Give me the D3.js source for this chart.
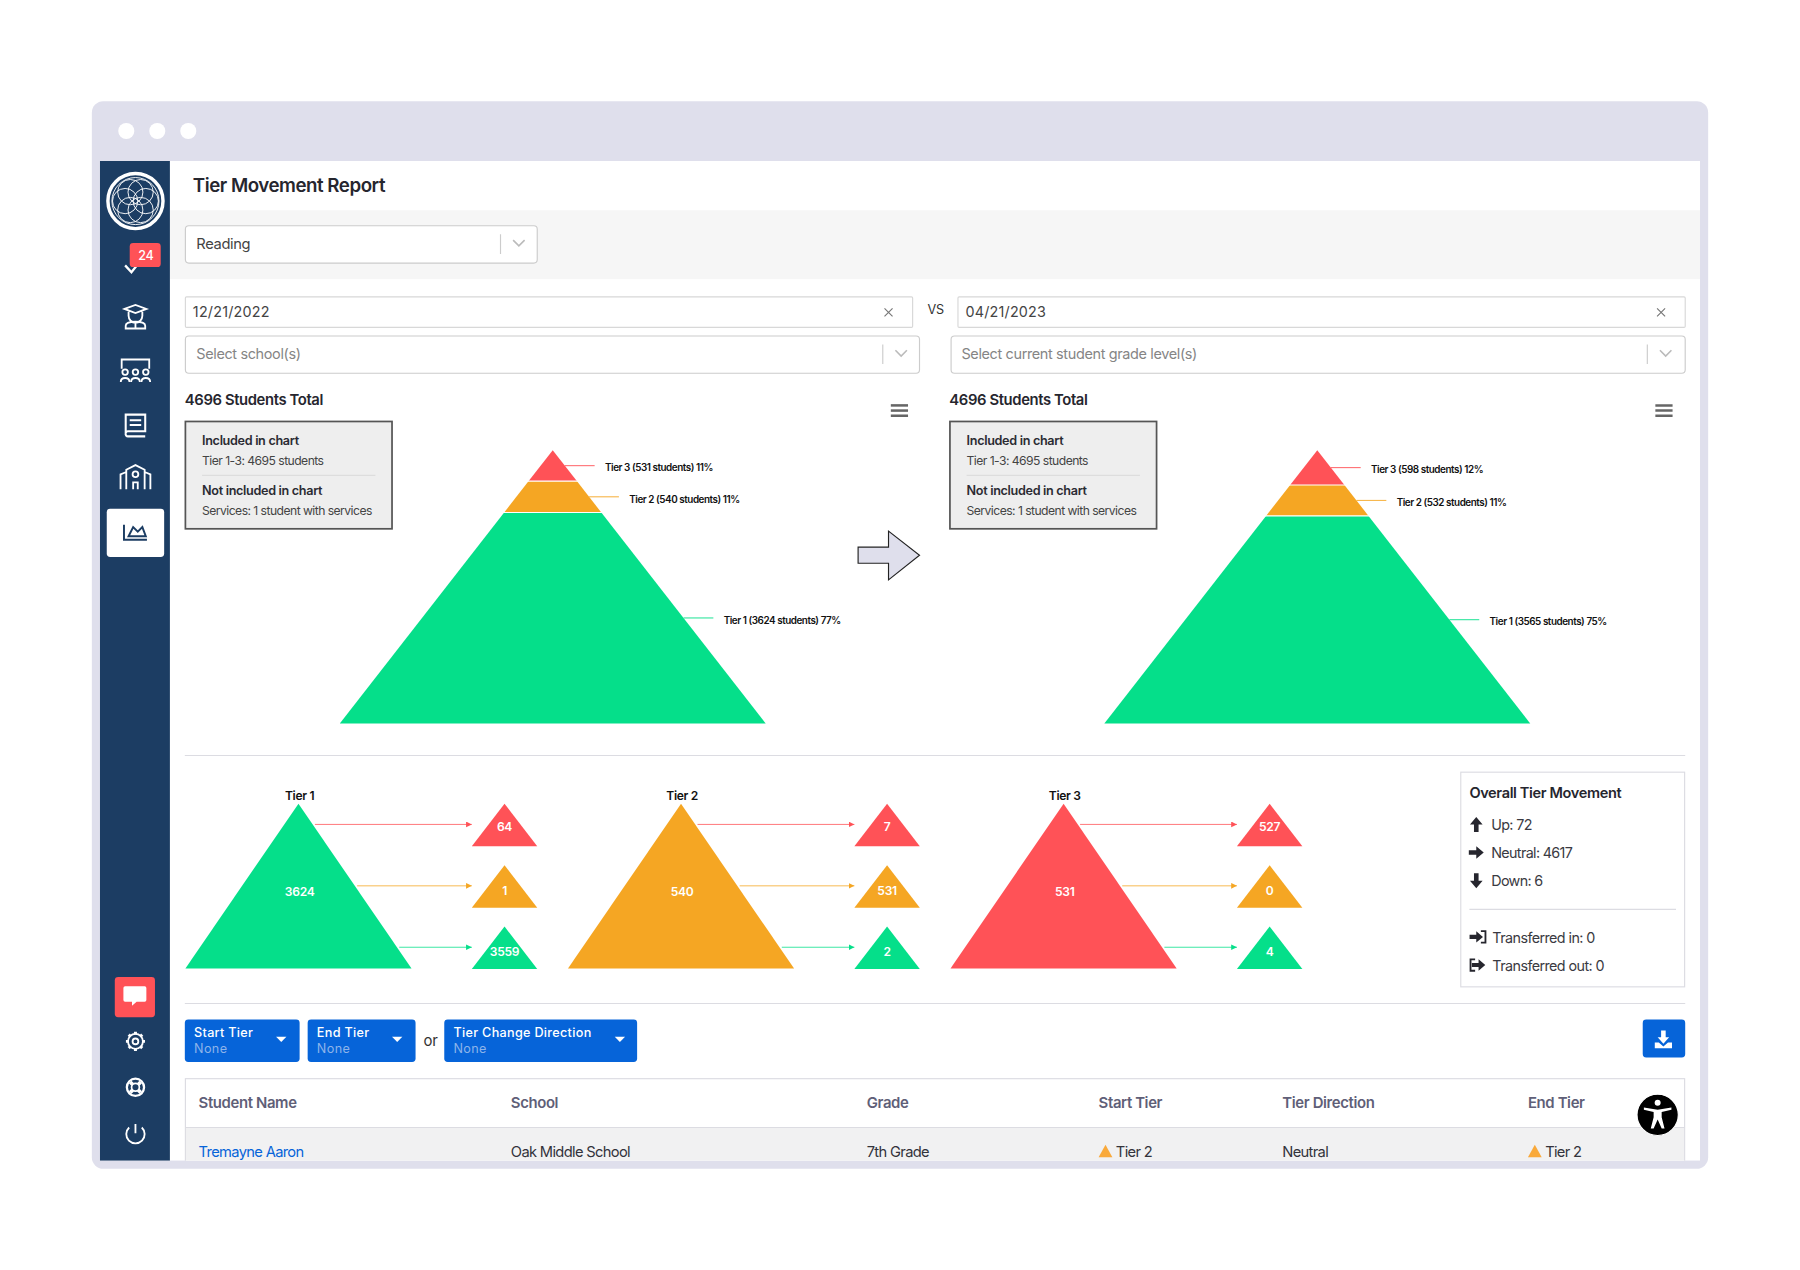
<!DOCTYPE html>
<html>
<head>
<meta charset="utf-8">
<title>Tier Movement Report</title>
<script src="https://d3js.org/d3.v7.min.js"></script>
<style>
  body { margin: 0; background: #fff; }
  svg { display: block; }
  text { font-family: Inter, "Noto Sans", sans-serif; letter-spacing: -0.025em; fill: #2b2b33; }
</style>
</head>
<body>
<svg id="chart" width="1800" height="1270" viewBox="0 0 1568 1106"></svg>
<script>
// values
const tierNames = ["Tier 3", "Tier 2", "Tier 1"];
const tierColors = ["#ff5257", "#f5a623", "#05df8a"];
const startCounts = [531, 540, 3624];
const endCounts = [598, 532, 3565];
const startPercent = [11, 11, 77];
const endPercent = [12, 11, 75];
const includedTotal = 4695;

const moveFrom = ["Tier 1", "Tier 2", "Tier 3"];
const moveFromCounts = [3624, 540, 531];
const moveToTier3 = [64, 7, 527];
const moveToTier2 = [1, 531, 0];
const moveToTier1 = [3559, 2, 4];

const movementLabels = ["Up: 72", "Neutral: 4617", "Down: 6"];
const transferLabels = ["Transferred in: 0", "Transferred out: 0"];
const tableHeaders = ["Student Name", "School", "Grade", "Start Tier", "Tier Direction", "End Tier"];
const tableRow = ["Tremayne Aaron", "Oak Middle School", "7th Grade", "Tier 2", "Neutral", "Tier 2"];

const svg = d3.select("#chart");
const frame = "#dfdfec", navy = "#1c3d63", blue = "#0664d9", line = "#dcdce2";

function box(g, x0, y0, x1, y1, fill, stroke, rx) {
    return g.append("rect").attr("x", x0).attr("y", y0).attr("width", x1 - x0).attr("height", y1 - y0)
        .attr("fill", fill).attr("stroke", stroke || "none").attr("rx", rx || 0);
}
function label(g, x, y, str, size, weight, color, anchor) {
    return g.append("text").attr("x", x).attr("y", y).text(str)
        .style("font-size", size + "px").style("font-weight", weight || 400)
        .style("fill", color || "#2b2b33").attr("text-anchor", anchor || "start");
}
function hline(g, x0, x1, y, color, w) {
    return g.append("line").attr("x1", x0).attr("x2", x1).attr("y1", y).attr("y2", y)
        .attr("stroke", color).attr("stroke-width", w || 1);
}
function chevron(g, x, y) {
    g.append("path").attr("d", `M${x - 5},${y - 3}L${x},${y + 2}L${x + 5},${y - 3}`)
        .attr("fill", "none").attr("stroke", "#bbb").attr("stroke-width", 1.4);
}
function cross(g, x, y) {
    g.append("path").attr("d", `M${x - 3.5},${y - 3.5}L${x + 3.5},${y + 3.5}M${x + 3.5},${y - 3.5}L${x - 3.5},${y + 3.5}`)
        .attr("stroke", "#777").attr("stroke-width", 1);
}
function triangle(cx, top, bottom, half) {
    return `M${cx},${top}L${cx + half},${bottom}L${cx - half},${bottom}Z`;
}

// window frame
box(svg, 80, 88, 1488, 1018, frame, null, 10);
[110, 137, 164].forEach(x => svg.append("circle").attr("cx", x).attr("cy", 114).attr("r", 7).attr("fill", "#fff"));
svg.append("clipPath").attr("id", "page").append("rect").attr("x", 87).attr("y", 140).attr("width", 1394).attr("height", 871);
const page = svg.append("g").attr("clip-path", "url(#page)");
box(page, 87, 140, 1481, 1011, "#fff");

// top bars
label(page, 168, 167, "Tier Movement Report", 16.3, 600, "#26262e");
box(page, 148, 183, 1481, 243, "#f6f6f6");
box(page, 161.5, 196.5, 468, 229, "#fff", "#ccc", 3);
label(page, 171, 217, "Reading", 12.8, 400, "#444");
hline(page, 436, 436, 204).attr("y2", 221).attr("stroke", "#ccc");
chevron(page, 452, 212);

// date and filter inputs
box(page, 161.5, 258.5, 795, 285, "#fff", "#d8d8d8", 1);
label(page, 168, 276, "12/21/2022", 12.5, 400, "#444").style("letter-spacing", "0.015em");
cross(page, 774, 272);
label(page, 815, 273, "VS", 11, 400, "#333", "middle");
box(page, 834.5, 258.5, 1468, 285, "#fff", "#d8d8d8", 1);
label(page, 841, 276, "04/21/2023", 12.5, 400, "#444").style("letter-spacing", "0.015em");
cross(page, 1447, 272);
box(page, 161.5, 292.5, 801, 325, "#fff", "#ccc", 3);
label(page, 171, 313, "Select school(s)", 12.6, 400, "#858585");
hline(page, 769, 769, 300).attr("y2", 317).attr("stroke", "#ccc");
chevron(page, 785, 308);
box(page, 828.5, 292.5, 1468, 325, "#fff", "#ccc", 3);
label(page, 837.5, 313, "Select current student grade level(s)", 12.6, 400, "#858585");
hline(page, 1435, 1435, 300).attr("y2", 317).attr("stroke", "#ccc");
chevron(page, 1451, 308);

// pyramid: segment height is proportional to the student count
function drawPyramid(dx, counts, percents) {
    const g = page.append("g").attr("transform", `translate(${dx},0)`);
    const apex = 392, base = 630, cx = 481.5, baseHalf = 185.5;
    const y = d3.scaleLinear().domain([0, includedTotal]).range([apex, base]);
    const half = d3.scaleLinear().domain([apex, base]).range([0, baseHalf]);

    label(g, 161, 353, "4696 Students Total", 12.9, 600, "#26262e");
    [353, 357.5, 362].forEach(v => hline(g, 776, 791, v, "#666", 2.2));

    box(g, 161.5, 367, 341.5, 460.5, "#eeeeee", "#555").attr("stroke-width", 1.5);
    label(g, 176, 387.5, "Included in chart", 11, 600);
    label(g, 176, 405, "Tier 1-3: 4695 students", 10.6, 400, "#444").style("letter-spacing", "-0.045em");
    hline(g, 176, 327, 414, "#ddd");
    label(g, 176, 431, "Not included in chart", 11, 600);
    label(g, 176, 448.5, "Services: 1 student with services", 10.6, 400, "#444").style("letter-spacing", "-0.045em");

    let running = 0;
    counts.forEach((count, i) => {
        const top = y(running), bottom = y(running + count);
        running += count;
        const mid = (top + bottom) / 2;
        g.append("path")
            .attr("d", `M${cx - half(top)},${top}L${cx + half(top)},${top}L${cx + half(bottom)},${bottom}L${cx - half(bottom)},${bottom}Z`)
            .attr("fill", tierColors[i]);
        if (i > 0) hline(g, cx - half(top) - 1, cx + half(top) + 1, top, "#fff", 1);
        const edge = cx + half(mid);
        hline(g, edge, edge + 26, mid, tierColors[i], 1).attr("stroke-opacity", 0.8);
        label(g, edge + 35, mid + 5, `${tierNames[i]} (${count} students) ${percents[i]}%`, 8.6, 600, "#111")
            .style("letter-spacing", "-0.045em");
    });
}
drawPyramid(0, startCounts, startPercent);
drawPyramid(666, endCounts, endPercent);

// arrow between the pyramids
page.append("path").attr("d", "M747.5,476.5H774V462.5L801,483.5L774,505V490.5H747.5Z")
    .attr("fill", frame).attr("stroke", "#222").attr("stroke-width", 1);

hline(page, 161, 1468, 658, line);
hline(page, 161, 1468, 874, line);

// tier movement triangles
const panelX = d3.scalePoint().domain(moveFrom).range([260, 926.5]);
const targets = [
    { color: tierColors[0], values: moveToTier3 },
    { color: tierColors[1], values: moveToTier2 },
    { color: tierColors[2], values: moveToTier1 }
];
const rowTop = d3.scalePoint().domain([0, 1, 2]).range([700, 807]);
const arrowY = d3.scalePoint().domain([0, 1, 2]).range([718, 825]);
const labelDrop = [24, 26, 26];

page.append("defs").selectAll("marker").data(tierColors).join("marker")
    .attr("id", (d, i) => "tip" + i).attr("markerWidth", 6).attr("markerHeight", 6)
    .attr("refX", 5).attr("refY", 2.5).attr("orient", "auto").attr("markerUnits", "userSpaceOnUse")
    .append("path").attr("d", "M0,0L5,2.5L0,5Z").attr("fill", d => d);

moveFrom.forEach((name, p) => {
    const cx = panelX(name), top = 700, bottom = 843.5, half = 98.5;
    const color = tierColors[2 - p];
    const g = page.append("g");
    label(g, cx + 1, 697, name, 10.5, 600, "#111", "middle");
    g.append("path").attr("d", triangle(cx, top, bottom, half)).attr("fill", color);
    label(g, cx + 1, 780, moveFromCounts[p], 10.5, 600, "#fff", "middle");
    targets.forEach((t, r) => {
        const ay = arrowY(r);
        const edge = cx + half * (ay - top) / (bottom - top) + 2;
        const tx = cx + 179.5;
        hline(g, edge, tx - 28.5, ay, t.color, 0.8).attr("stroke-opacity", 0.85).attr("marker-end", `url(#tip${r})`);
        g.append("path").attr("d", triangle(tx, rowTop(r), rowTop(r) + 37, 28.5)).attr("fill", t.color);
        label(g, tx, rowTop(r) + labelDrop[r], t.values[p], 10.5, 600, "#fff", "middle");
    });
});

// overall movement box
box(page, 1272.5, 672.5, 1467.5, 859.5, "#fff", line);
label(page, 1280, 695, "Overall Tier Movement", 12.7, 600, "#26262e");
const arrowPaths = [
    "M0,-6.5L5.5,0H2V6.5H-2V0H-5.5Z",
    "M6.5,0L0,5.5V2H-6.5V-2H0V-5.5Z",
    "M0,6.5L5.5,0H2V-6.5H-2V0H-5.5Z"
];
movementLabels.forEach((str, i) => {
    const yy = d3.scalePoint().domain([0, 1, 2]).range([723, 772])(i);
    page.append("path").attr("d", arrowPaths[i]).attr("transform", `translate(1286,${yy - 5})`).attr("fill", "#26262e");
    label(page, 1299, yy, str, 12.5, 400, "#3a3a42").style("letter-spacing", "-0.045em");
});
hline(page, 1280, 1460, 792, line);
transferLabels.forEach((str, i) => {
    const yy = 821 + i * 24.5;
    const g = page.append("g").attr("transform", `translate(1287,${yy - 5})`);
    if (i == 0) {
        g.append("path").attr("d", arrowPaths[1]).attr("transform", "translate(-1,0) scale(0.9)").attr("fill", "#26262e");
        g.append("path").attr("d", "M3,-5H7V5H3").attr("fill", "none").attr("stroke", "#26262e").attr("stroke-width", 1.6);
    } else {
        g.append("path").attr("d", "M-2,-5H-6V5H-2").attr("fill", "none").attr("stroke", "#26262e").attr("stroke-width", 1.6);
        g.append("path").attr("d", arrowPaths[1]).attr("transform", "translate(1,0) scale(0.9)").attr("fill", "#26262e");
    }
    label(page, 1300, yy, str, 12.5, 400, "#3a3a42").style("letter-spacing", "-0.04em");
});

// filter buttons
const buttons = [["Start Tier", 161, 261, 245], ["End Tier", 268, 362, 346], ["Tier Change Direction", 387, 555, 540]];
buttons.forEach(b => {
    box(page, b[1], 888, b[2], 925, blue, null, 3);
    label(page, b[1] + 8, 903.5, b[0], 11, 500, "#fff").style("letter-spacing", "0.025em");
    label(page, b[1] + 8, 917, "None", 11, 400, "#8db4ea").style("letter-spacing", "0.03em");
    page.append("path").attr("d", `M${b[3] - 4.5},903H${b[3] + 4.5}L${b[3]},907.5Z`).attr("fill", "#fff");
});
label(page, 375, 911, "or", 13, 400, "#333", "middle");
box(page, 1431, 888, 1468, 921, blue, null, 3);
page.append("path").attr("d", "M1447,897.5H1451V903.5H1454L1449,909L1444,903.5H1447Z").attr("fill", "#fff");
page.append("path").attr("d", "M1441.5,908H1445L1449,911.5L1453,908H1456.5V913H1441.5Z").attr("fill", "#fff");

// student table
box(page, 161.5, 939.5, 1467.5, 1020, "#fff", line);
box(page, 162, 982, 1467, 1020, "#f1f1f2");
hline(page, 162, 1467, 982, line);
const colX = [173, 445, 755, 957, 1117, 1331];
tableHeaders.forEach((h, i) => label(page, colX[i], 965, h, 13, 600, "#5f5f78"));
tableRow.forEach((v, i) => {
    const tierCell = i == 3 || i == 5;
    if (tierCell) page.append("path").attr("d", triangle(colX[i] + 6, 997, 1008, 6)).attr("fill", "#f9a93a");
    label(page, colX[i] + (tierCell ? 15 : 0), 1008, v, 12.8, 400, i == 0 ? blue : "#33333b").style("letter-spacing", "-0.045em");
});

// accessibility badge
page.append("circle").attr("cx", 1444).attr("cy", 971).attr("r", 18).attr("fill", "#000").attr("stroke", "#fff").attr("stroke-width", 1);
page.append("circle").attr("cx", 1444).attr("cy", 960.5).attr("r", 2.6).attr("fill", "#fff");
page.append("path").attr("d", "M1432,964.5L1444,966.5L1456,964.5V966.5L1447.5,968.5V973L1450,983H1447.5L1444,975L1440.5,983H1438L1440.5,973V968.5L1432,966.5Z").attr("fill", "#fff");

// sidebar
box(page, 87, 140, 148, 1011, navy);
const side = page.append("g").attr("fill", "none").attr("stroke", "#fff").attr("stroke-width", 1.6);
side.append("circle").attr("cx", 118).attr("cy", 175).attr("r", 24).attr("stroke-width", 3);
side.append("circle").attr("cx", 118).attr("cy", 175).attr("r", 20.5).attr("stroke-width", 0.8);
d3.range(6).forEach(i => {
    const a = i * Math.PI / 3;
    side.append("circle").attr("cx", 118 + 9 * Math.cos(a)).attr("cy", 175 + 9 * Math.sin(a)).attr("r", 11).attr("stroke-width", 0.8);
});
side.append("path").attr("d", "M109,231L114.5,237L120,230").attr("stroke-width", 2);
box(page, 113, 211.5, 140, 232.5, "#ff5257", null, 3);
label(page, 127, 226, "24", 11, 500, "#fff", "middle");
// student
side.append("path").attr("d", "M108.5,269L118,265.5L127.5,269L118,272.5ZM112,271.5V275A6,6 0 0 0 124,275V271.5M109.5,286V283.5C109.5,279 126.5,279 126.5,283.5V286ZM118,281V286");
// classroom
side.append("path").attr("d", "M106,321V313H130V321");
[109, 118, 127].forEach(x => {
    side.append("circle").attr("cx", x).attr("cy", 324).attr("r", 2.4);
    side.append("path").attr("d", `M${x - 3.8},332.5C${x - 3.8},328 ${x + 3.8},328 ${x + 3.8},332.5`);
});
// book
side.append("path").attr("d", "M109.5,361H126.5V375.5H111.5A2,2 0 0 0 109.5,377.5ZM109.5,377.5A2,2 0 0 0 111.5,380H126.5M113,366H123M113,370H123").attr("stroke-width", 1.8);
// school
side.append("path").attr("d", "M105,426V413L110,411M131,426V413L126,411M110,426V409L118,405L126,409V426M116,426V420H120V426");
side.append("circle").attr("cx", 118).attr("cy", 413).attr("r", 2.5);
// active tab
box(page, 93, 443, 143, 485, "#fff", null, 3);
page.append("path").attr("d", "M108,457V470H128M112,467L116,459L120,463L124,459L127,467Z").attr("fill", "none").attr("stroke", navy).attr("stroke-width", 1.7);
// chat
box(page, 100, 851, 135, 886, "#ff5257", null, 3);
page.append("path").attr("d", "M109,859H126A1.5,1.5 0 0 1 127.5,860.5V871A1.5,1.5 0 0 1 126,872.5H119L115,876V872.5H109A1.5,1.5 0 0 1 107.5,871V860.5A1.5,1.5 0 0 1 109,859Z").attr("fill", "#fff");
// gear
side.append("circle").attr("cx", 118).attr("cy", 907).attr("r", 2.5);
side.append("circle").attr("cx", 118).attr("cy", 907).attr("r", 6.5).attr("stroke-width", 1.6);
d3.range(8).forEach(i => side.append("line").attr("x1", 118).attr("x2", 118).attr("y1", 898.7).attr("y2", 901)
    .attr("stroke-width", 2.6).attr("transform", `rotate(${i * 45} 118 907)`));
// help
side.append("circle").attr("cx", 118).attr("cy", 947).attr("r", 7.5).attr("stroke-width", 2);
side.append("circle").attr("cx", 118).attr("cy", 947).attr("r", 3.4).attr("stroke-width", 1.5);
[45, 135, 225, 315].forEach(a => side.append("line").attr("x1", 118).attr("x2", 118).attr("y1", 940.5).attr("y2", 943.5).attr("stroke-width", 3.2).attr("transform", `rotate(${a} 118 947)`));
// power
side.append("path").attr("d", "M112.5,982A8,8 0 1 0 123.5,982M118,979V987");
</script>
</body>
</html>
